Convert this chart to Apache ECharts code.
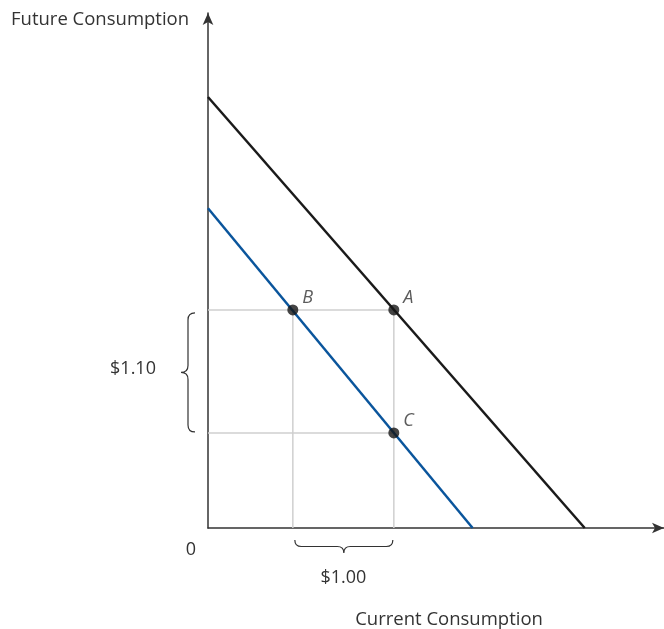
<!DOCTYPE html>
<html>
<head>
<meta charset="utf-8">
<script src="https://cdn.jsdelivr.net/npm/echarts@6/dist/echarts.min.js"></script>
<style>
  html, body { margin: 0; padding: 0; background: #fff; }
  #chart { width: 664px; height: 629px; }
</style>
</head>
<body>
<div id="chart"></div>
<script>
// budget lines (current, future)
const oldBudget = [[0, 3.855], [3.73, 0]]
const newBudget = [[0, 2.86], [2.62, 0]]
// labelled points
const pointNames = ['B', 'A', 'C']
const pointXY = [[0.84, 1.95], [1.84, 1.95], [1.84, 0.85]]
// guide lines through the points
const guides = [
  [[0, 1.95], [1.84, 1.95]],
  [[0, 0.85], [1.84, 0.85]],
  [[0.84, 0], [0.84, 1.95]],
  [[1.84, 0], [1.84, 1.95]]
]
// braces: [from, to] in data units
const xBrace = [0.84, 1.84]
const yBrace = [0.85, 1.95]
const xBraceLabel = '$1.00'
const yBraceLabel = '$1.10'

const font = '"Open Sans", Lato, sans-serif'
const txt = '#333'

function vBrace(x0, y1, y2, w) {
  const h = w / 2, xh = x0 - h, ym = (y1 + y2) / 2
  return 'M' + x0 + ' ' + y1 + ' Q' + xh + ' ' + y1 + ' ' + xh + ' ' + (y1 + h) +
    ' L' + xh + ' ' + (ym - h) + ' Q' + xh + ' ' + ym + ' ' + (x0 - w) + ' ' + ym +
    ' Q' + xh + ' ' + ym + ' ' + xh + ' ' + (ym + h) +
    ' L' + xh + ' ' + (y2 - h) + ' Q' + xh + ' ' + y2 + ' ' + x0 + ' ' + y2
}
function hBrace(x1, x2, y0, w) {
  const h = w / 2, yh = y0 + h, xm = (x1 + x2) / 2
  return 'M' + x1 + ' ' + y0 + ' Q' + x1 + ' ' + yh + ' ' + (x1 + h) + ' ' + yh +
    ' L' + (xm - h) + ' ' + yh + ' Q' + xm + ' ' + yh + ' ' + xm + ' ' + (y0 + w) +
    ' Q' + xm + ' ' + yh + ' ' + (xm + h) + ' ' + yh +
    ' L' + (x2 - h) + ' ' + yh + ' Q' + x2 + ' ' + yh + ' ' + x2 + ' ' + y0
}

const chart = echarts.init(document.getElementById('chart'))
const axisCommon = {
  type: 'value',
  min: 0,
  axisLine: { show: true, onZero: false, symbol: ['none', 'arrow'], symbolSize: [8, 12], lineStyle: { color: '#333', width: 1.5 } },
  axisTick: { show: false },
  axisLabel: { show: false },
  splitLine: { show: false }
}

const series = []
guides.forEach(g => {
  series.push({
    type: 'line', data: g, symbol: 'none', silent: true,
    lineStyle: { color: '#cfcfcf', width: 1.5 }
  })
})
series.push({
  type: 'line', data: oldBudget, symbol: 'none',
  lineStyle: { color: '#1a1a1a', width: 2.5 }
})
series.push({
  type: 'line', data: newBudget, symbol: 'none',
  lineStyle: { color: '#0a559c', width: 2.5 }
})
series.push({
  type: 'scatter',
  data: pointXY.map((p, i) => ({ value: p, name: pointNames[i] })),
  symbolSize: 11,
  itemStyle: { color: '#151515' },
  label: {
    show: true, position: [15, -16], formatter: '{b}',
    fontStyle: 'italic', fontSize: 18, fontFamily: font, color: txt
  },
  z: 5
})
// braces, placed from the point coordinates
series.push({
  type: 'custom',
  data: [0],
  renderItem: function (params, api) {
    const top = api.coord([0, yBrace[1]])
    const bot = api.coord([0, yBrace[0]])
    const left = api.coord([xBrace[0], 0])
    const right = api.coord([xBrace[1], 0])
    const bx = top[0] - 13
    const by = left[1] + 12
    return {
      type: 'group',
      children: [
        { type: 'path', shape: { pathData: vBrace(bx, top[1] + 3, bot[1] - 1, 14) }, style: { fill: 'none', stroke: '#333', lineWidth: 1.2 } },
        { type: 'path', shape: { pathData: hBrace(left[0] + 2, right[0] - 1, by, 13) }, style: { fill: 'none', stroke: '#333', lineWidth: 1.2 } },
        { type: 'text', style: { text: yBraceLabel, x: bx - 62, y: (top[1] + bot[1]) / 2 - 3, align: 'center', verticalAlign: 'middle', font: '18px ' + font, fill: txt } },
        { type: 'text', style: { text: xBraceLabel, x: (left[0] + right[0]) / 2, y: by + 38, align: 'center', verticalAlign: 'middle', font: '18px ' + font, fill: txt } }
      ]
    }
  },
  clip: false,
  silent: true
})

chart.setOption({
  animation: false,
  grid: { left: 208, right: 0, top: 13, bottom: 101 },
  xAxis: Object.assign({}, axisCommon, { max: 4.515 }),
  yAxis: Object.assign({}, axisCommon, { max: 4.606 }),
  graphic: [
    { type: 'text', style: { text: 'Future Consumption', x: 11, y: 20, textAlign: 'left', textVerticalAlign: 'middle', font: '18.5px ' + font, fill: txt } },
    { type: 'text', style: { text: '0', x: 191, y: 550, textAlign: 'center', textVerticalAlign: 'middle', font: '18px ' + font, fill: txt } },
    { type: 'text', style: { text: 'Current Consumption', x: 449, y: 620, textAlign: 'center', textVerticalAlign: 'middle', font: '18.5px ' + font, fill: txt } }
  ],
  series: series
})
</script>
</body>
</html>
